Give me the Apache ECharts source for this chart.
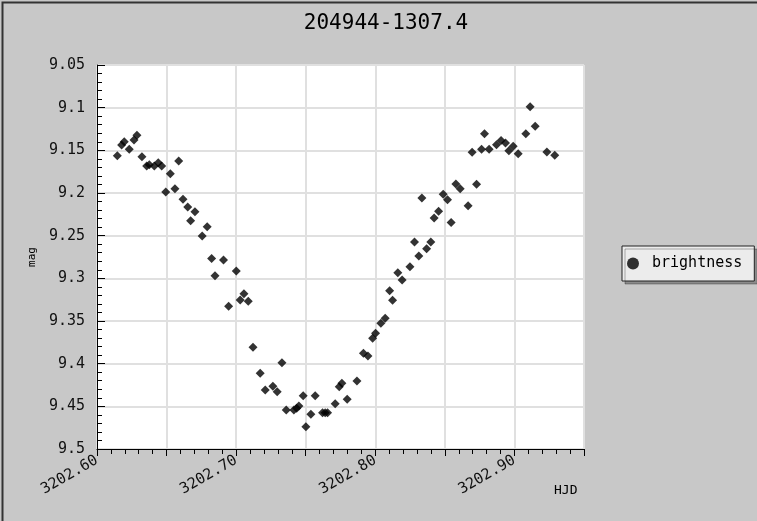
<!DOCTYPE html>
<html>
<head>
<meta charset="utf-8">
<script src="https://cdn.jsdelivr.net/npm/echarts@6/dist/echarts.min.js"></script>
<style>
html,body{margin:0;padding:0;background:#c8c8c8;}
#c{width:757px;height:521px;}
</style>
</head>
<body>
<div id="c"></div>
<script>
const titleText = "204944-1307.4";
const seriesName = "brightness";
const xName = "HJD";
const yName = "mag";

const hjd = [
3202.6146,3202.6177,3202.6196,3202.6232,3202.6266,3202.6287,3202.6323,3202.6357,3202.6376,3202.6412,
3202.6440,3202.6465,3202.6494,3202.6527,3202.6560,3202.6587,3202.6618,3202.6652,3202.6673,3202.6704,
3202.6756,3202.6792,3202.6824,3202.6848,3202.6909,3202.6946,3202.7001,3202.7029,3202.7056,3202.7087,
3202.7121,3202.7173,3202.7209,3202.7264,3202.7295,3202.7329,3202.7360,3202.7415,3202.7435,3202.7451,
3202.7482,3202.7501,3202.7537,3202.7568,3202.7621,3202.7640,3202.7657,3202.7712,3202.7741,3202.7760,
3202.7798,3202.7868,3202.7915,3202.7947,3202.7981,3202.8002,3202.8040,3202.8071,3202.8103,3202.8124,
3202.8162,3202.8193,3202.8249,3202.8282,3202.8313,3202.8335,3202.8369,3202.8399,3202.8423,3202.8455,
3202.8488,3202.8519,3202.8545,3202.8579,3202.8610,3202.8667,3202.8696,3202.8728,3202.8764,3202.8785,
3202.8818,3202.8871,3202.8904,3202.8936,3202.8960,3202.8991,3202.9027,3202.9082,3202.9113,3202.9149,
3202.9233,3202.9290
];
const mag = [
9.1563,9.1438,9.1399,9.1488,9.1379,9.1324,9.1575,9.1684,9.1668,9.1684,
9.1645,9.1684,9.1988,9.1774,9.1950,9.1625,9.2074,9.2164,9.2325,9.2219,
9.2504,9.2395,9.2768,9.2969,9.2785,9.3328,9.2914,9.3254,9.3180,9.3269,
9.3808,9.4113,9.4309,9.4265,9.4329,9.3989,9.4543,9.4543,9.4523,9.4496,
9.4376,9.4739,9.4594,9.4376,9.4575,9.4575,9.4575,9.4469,9.4270,9.4230,
9.4418,9.4203,9.3878,9.3910,9.3703,9.3644,9.3527,9.3468,9.3145,9.3258,
9.2934,9.3020,9.2864,9.2574,9.2738,9.2059,9.2653,9.2574,9.2293,9.2215,
9.2015,9.2079,9.2346,9.1895,9.1950,9.2149,9.1523,9.1897,9.1488,9.1305,
9.1488,9.1434,9.1385,9.1414,9.1504,9.1453,9.1539,9.1305,9.0989,9.1218,
9.1520,9.1558
];

const xMin = 3202.60, xMax = 3202.95, xStep = 0.05;
const yMin = 9.05, yMax = 9.5, yStep = 0.05;

const points = hjd.map((x, i) => [x, mag[i]]);
const FONT = "DejaVu Sans Mono";

const chart = echarts.init(document.getElementById('c'), null, {renderer: 'canvas'});
chart.setOption({
  backgroundColor: '#c8c8c8',
  animation: false,
  title: {
    text: titleText,
    left: 381,
    top: 8,
    textAlign: 'center',
    textStyle: {fontFamily: FONT, fontSize: 21, fontWeight: 'normal', color: '#000'}
  },
  legend: {
    orient: 'vertical',
    left: 622,
    top: 246,
    padding: [10, 12, 10, 5],
    itemWidth: 20,
    itemHeight: 12,
    icon: 'circle',
    backgroundColor: '#ececec',
    borderColor: '#222',
    borderWidth: 1,
    shadowColor: 'rgba(0,0,0,0.3)',
    shadowOffsetX: 3,
    shadowOffsetY: 3,
    shadowBlur: 0,
    textStyle: {fontFamily: FONT, fontSize: 15, color: '#000', padding: [0, 0, 0, 4]},
    data: [seriesName]
  },
  grid: {
    left: 97, top: 65, right: 173, bottom: 72,
    show: true, backgroundColor: '#ffffff', borderWidth: 0
  },
  xAxis: {
    type: 'value',
    min: xMin, max: xMax, interval: xStep,
    name: xName,
    nameLocation: 'end',
    nameGap: -30,
    nameTextStyle: {fontFamily: FONT, fontSize: 13, color: '#000', align: 'left', verticalAlign: 'top', padding: [35, 0, 0, 0]},
    axisLine: {show: true, onZero: false, lineStyle: {color: '#000', width: 1}},
    axisTick: {show: true, inside: false, length: 7, lineStyle: {color: '#000'}},
    minorTick: {show: true, splitNumber: 5, length: 5, lineStyle: {color: '#000'}},
    splitLine: {show: true, lineStyle: {color: '#e0e0e0', width: 2}},
    axisLabel: {
      rotate: 30, margin: 10,
      fontFamily: FONT, fontSize: 15, color: '#111',
      formatter: v => (Math.round(v * 100) % 10 === 0 ? v.toFixed(2) : '')
    }
  },
  yAxis: {
    type: 'value',
    inverse: true,
    min: yMin, max: yMax, interval: yStep,
    name: yName,
    nameLocation: 'middle',
    nameGap: 48,
    nameRotate: 90,
    nameTextStyle: {fontFamily: FONT, fontSize: 11, color: '#000'},
    axisLine: {show: true, onZero: false, lineStyle: {color: '#000', width: 1}},
    axisTick: {show: true, inside: true, length: 8, lineStyle: {color: '#000'}},
    minorTick: {show: true, splitNumber: 5, length: 5, lineStyle: {color: '#000'}},
    splitLine: {show: true, lineStyle: {color: '#e0e0e0', width: 2}},
    axisLabel: {
      margin: 12,
      fontFamily: FONT, fontSize: 15, color: '#111',
      formatter: v => String(+v.toFixed(2))
    }
  },
  graphic: [{
    type: 'rect', left: 0, top: 0, z: 100, silent: true,
    shape: {x: 0, y: 0, width: 756, height: 520},
    style: {fill: 'none', stroke: '#333', lineWidth: 2}
  }],
  series: [{
    name: seriesName,
    type: 'scatter',
    symbol: 'diamond',
    symbolSize: 9,
    itemStyle: {color: '#000'},
    data: points
  }]
});
</script>
</body>
</html>
